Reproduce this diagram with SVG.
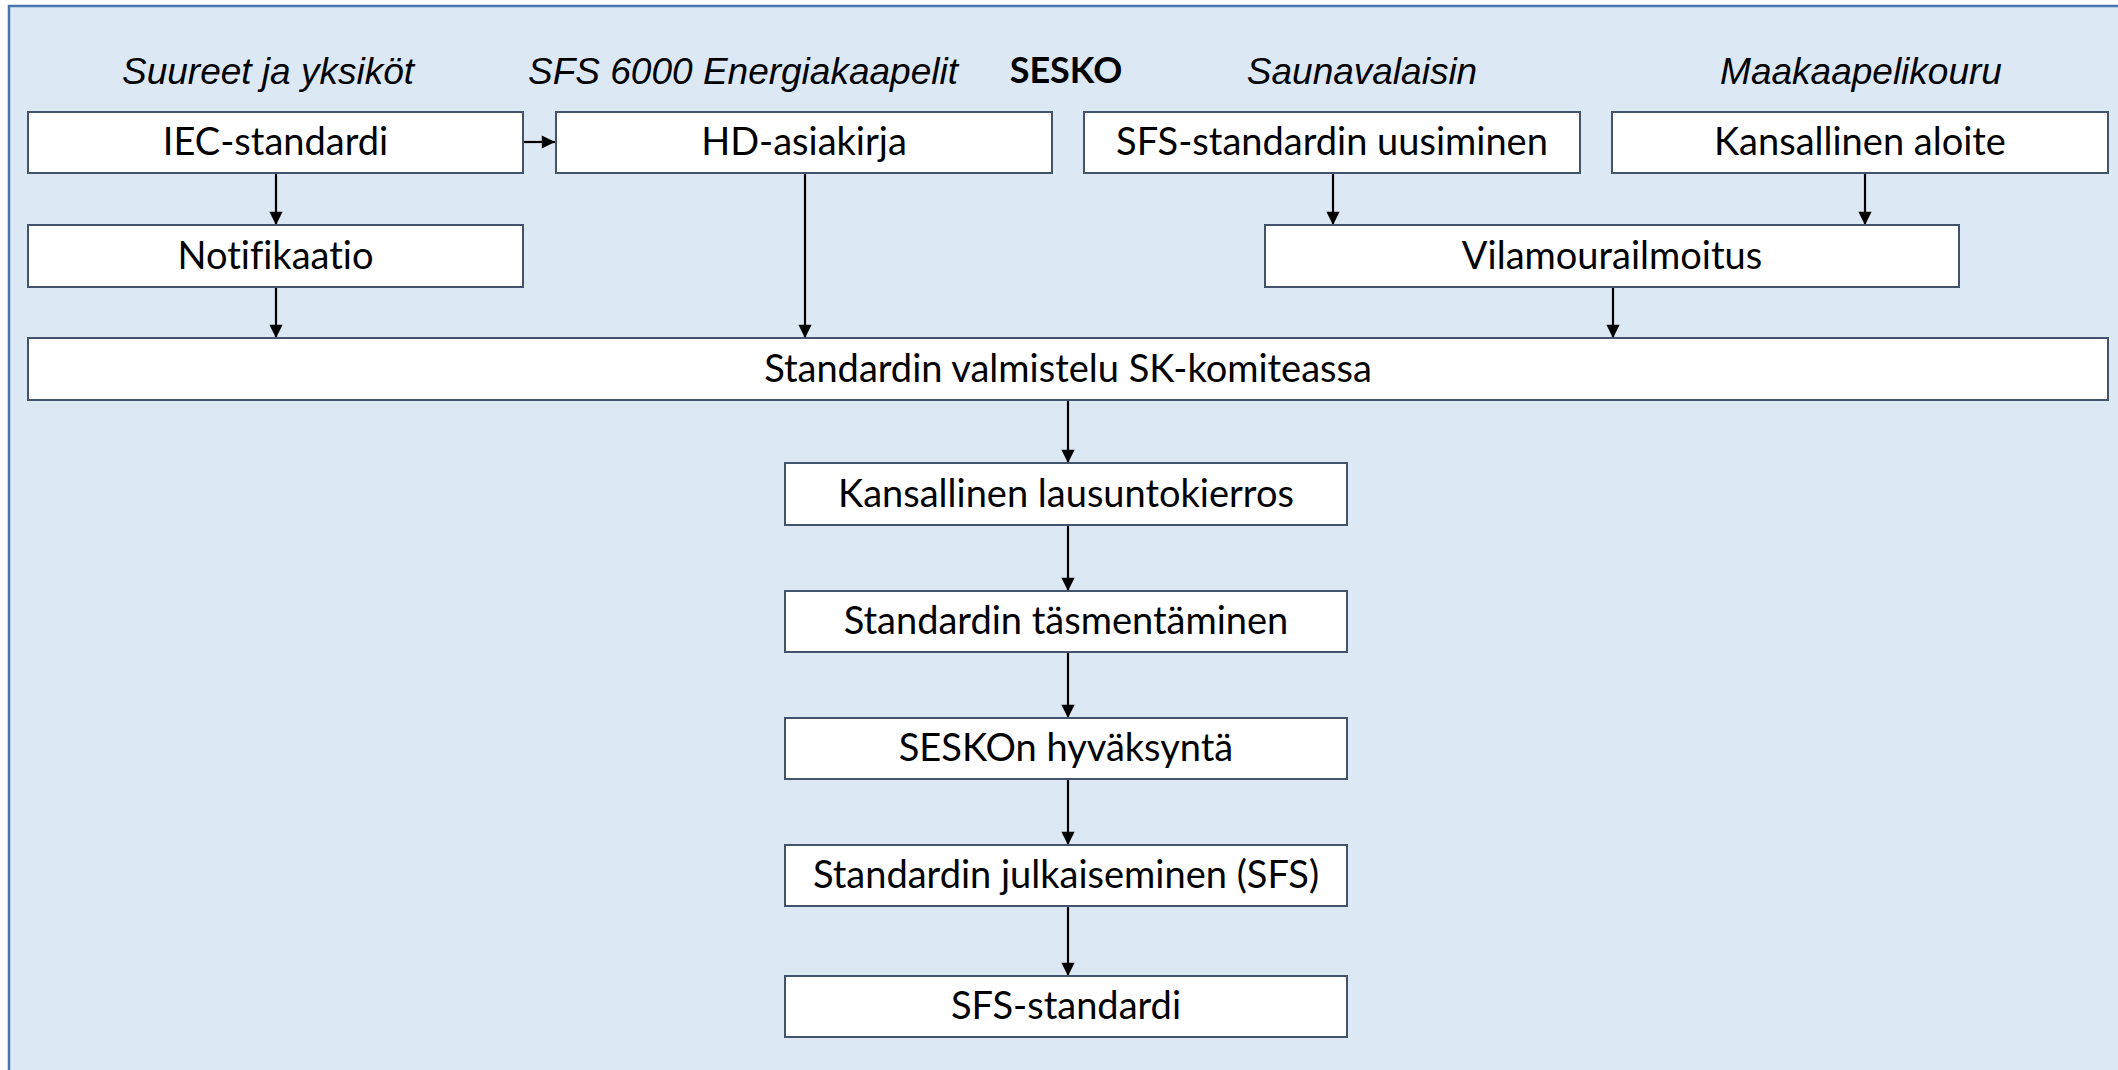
<svg xmlns="http://www.w3.org/2000/svg" width="2118" height="1070" viewBox="0 0 2118 1070">
<style>
.bg{fill:#dde8f5;stroke:#4a76ad;stroke-width:2.5}
.box{fill:#ffffff;stroke:#43536c;stroke-width:2}
.t{font-family:Lato,"Open Sans",sans-serif;font-size:38px;fill:#000;text-anchor:middle;font-variant-ligatures:none}
.lbl{font-family:"Liberation Sans",Arial,sans-serif;font-style:italic;font-size:37px;fill:#000;text-anchor:middle}
.bold{font-family:Lato,"Open Sans",sans-serif;font-weight:bold;font-size:36px;fill:#000;text-anchor:middle}
.c{stroke:#000;stroke-width:2.2;fill:none;marker-end:url(#ah)}
</style>
<defs>
<marker id="ah" viewBox="0 0 10 10" refX="10" refY="5" markerWidth="6.5" markerHeight="6" markerUnits="strokeWidth" orient="auto">
<path d="M0,0 L10,5 L0,10 Z" fill="#000"/>
</marker>
</defs>
<rect x="0" y="0" width="2118" height="1070" fill="#ffffff"/>
<rect class="bg" x="9" y="6" width="2130" height="1090"/>

<g id="labels">
<text class="lbl" x="268" y="84">Suureet ja yksiköt</text>
<text class="lbl" x="743" y="84">SFS 6000 Energiakaapelit</text>
<text class="bold" x="1066" y="83">SESKO</text>
<text class="lbl" x="1362" y="84">Saunavalaisin</text>
<text class="lbl" x="1861" y="84">Maakaapelikouru</text>
</g>

<g id="connectors">
<line class="c" x1="524" y1="142" x2="555" y2="142"/>
<line class="c" x1="276" y1="173" x2="276" y2="225"/>
<line class="c" x1="276" y1="287" x2="276" y2="338"/>
<line class="c" x1="805" y1="173" x2="805" y2="338"/>
<line class="c" x1="1333" y1="173" x2="1333" y2="225"/>
<line class="c" x1="1865" y1="173" x2="1865" y2="225"/>
<line class="c" x1="1613" y1="287" x2="1613" y2="338"/>
<line class="c" x1="1068" y1="400" x2="1068" y2="463"/>
<line class="c" x1="1068" y1="525" x2="1068" y2="591"/>
<line class="c" x1="1068" y1="652" x2="1068" y2="718"/>
<line class="c" x1="1068" y1="779" x2="1068" y2="845"/>
<line class="c" x1="1068" y1="906" x2="1068" y2="976"/>
</g>

<g id="n-iec"><rect class="box" x="28" y="112" width="495" height="61"/><text class="t" x="275.5" y="155">IEC-standardi</text></g>
<g id="n-hd"><rect class="box" x="556" y="112" width="496" height="61"/><text class="t" x="804" y="155">HD-asiakirja</text></g>
<g id="n-sfsuus"><rect class="box" x="1084" y="112" width="496" height="61"/><text class="t" x="1332" y="155">SFS-standardin uusiminen</text></g>
<g id="n-kansaloite"><rect class="box" x="1612" y="112" width="496" height="61"/><text class="t" x="1860" y="155">Kansallinen aloite</text></g>
<g id="n-notif"><rect class="box" x="28" y="225" width="495" height="62"/><text class="t" x="275.5" y="269">Notifikaatio</text></g>
<g id="n-vilamoura"><rect class="box" x="1265" y="225" width="694" height="62"/><text class="t" x="1612" y="269">Vilamourailmoitus</text></g>
<g id="n-valmistelu"><rect class="box" x="28" y="338" width="2080" height="62"/><text class="t" x="1068" y="382">Standardin valmistelu SK-komiteassa</text></g>
<g id="n-lausunto"><rect class="box" x="785" y="463" width="562" height="62"/><text class="t" x="1066" y="507">Kansallinen lausuntokierros</text></g>
<g id="n-tasment"><rect class="box" x="785" y="591" width="562" height="61"/><text class="t" x="1066" y="634">Standardin täsmentäminen</text></g>
<g id="n-hyvaksynta"><rect class="box" x="785" y="718" width="562" height="61"/><text class="t" x="1066" y="761">SESKOn hyväksyntä</text></g>
<g id="n-julkaisu"><rect class="box" x="785" y="845" width="562" height="61"/><text class="t" x="1066" y="888">Standardin julkaiseminen (SFS)</text></g>
<g id="n-sfs"><rect class="box" x="785" y="976" width="562" height="61"/><text class="t" x="1066" y="1019">SFS-standardi</text></g>
</svg>
